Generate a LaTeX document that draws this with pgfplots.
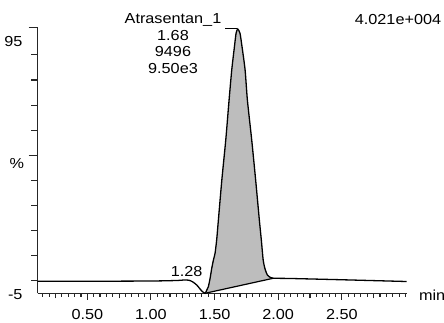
\documentclass[border=0pt]{standalone}
\usepackage{fontspec}
\setmainfont{Liberation Sans}[FakeStretch=1.12]
\usepackage{pgfplots}
\pgfplotsset{compat=1.18}
\begin{document}
\fontsize{14.5}{16}\selectfont
\begin{tikzpicture}[x=1pt,y=1pt]
\useasboundingbox (0,0) rectangle (444,322);
\begin{axis}[
  at={(37.7pt,28.7pt)}, anchor=south west,
  scale only axis, width=369pt, height=266pt,
  xmin=0.11, xmax=3.01, ymin=-5, ymax=101,
  axis x line*=bottom, axis y line*=left,
  axis line style={line width=1.3pt, black!85},
  tick style={line width=1.1pt, black!85},
  tick align=outside,
  xtick={0.5,1.0,1.5,2.0,2.5},
  xticklabels={0.50,1.00,1.50,2.00,2.50},
  major tick length=6.5pt,
  minor tick length=3.5pt,
  minor xtick={0.15,0.20,...,3.0},
  extra x ticks={0.25,0.75,1.25,1.75,2.25,2.75},
  extra x tick labels={},
  extra x tick style={major tick length=5pt},
  ytick={0,10,20,30,40,60,70,80,90}, yticklabels={},
  extra y ticks={50,101}, extra y tick labels={},
  extra y tick style={major tick length=9pt},
  xticklabel style={font=\fontsize{14.5}{16}\selectfont, anchor=center, yshift=-15pt},
  clip=false,
]
\pgfplotstableread{
x y
0.11 -0.2
0.50 -0.2
1.00 -0.1
1.20 0.1
1.26 0.3
1.30 0.2
1.33 -0.5
1.36 -1.7
1.38 -2.9
1.40 -4.1
1.425 -5.0
1.44 -3.6
1.451 -2.4
1.465 1.0
1.478 5.0
1.492 8.5
1.504 11
1.517 16.5
1.530 24.2
1.557 40.1
1.588 56.1
1.614 72.0
1.635 84.0
1.656 93.2
1.669 98.6
1.682 100.3
1.700 98.6
1.716 93.2
1.740 84.0
1.758 72.0
1.792 56.1
1.823 40.1
1.852 24.2
1.868 16
1.882 8.3
1.895 5.0
1.915 2.3
1.940 1.3
1.962 1.0
2.10 0.9
2.50 0.4
3.01 -0.3
}\trace
\pgfplotstableread{
x y
1.425 -5.0
1.44 -3.6
1.451 -2.4
1.465 1.0
1.478 5.0
1.492 8.5
1.504 11
1.517 16.5
1.530 24.2
1.557 40.1
1.588 56.1
1.614 72.0
1.635 84.0
1.656 93.2
1.669 98.6
1.682 100.3
1.700 98.6
1.716 93.2
1.740 84.0
1.758 72.0
1.792 56.1
1.823 40.1
1.852 24.2
1.868 16
1.882 8.3
1.895 5.0
1.915 2.3
1.940 1.3
1.962 1.0
}\peak
\addplot[fill=black!26, draw=none] table[x=x,y=y]{\peak} -- cycle;
\addplot[black, line width=1.3pt, smooth, tension=0.4] table[x=x,y=y]{\trace};
\addplot[black, line width=1.2pt] coordinates {(1.425,-5.0) (1.962,1.0)};
\end{axis}
\node[anchor=east] at (27.5,322-41.7) {95};
\node[anchor=east] at (27.5,322-295) {-5};
\node[anchor=east] at (29,322-163.3) {\%};
\node[anchor=west] at (414,322-295) {min};
\node at (173,322-20) {Atrasentan\_1};
\node at (173,322-35.7) {1.68};
\node at (173,322-51.7) {9496};
\node at (173,322-68.3) {9.50e3};
\draw[black, line width=1pt] (225,322-28.3) -- (237.3,322-28.3);
\node at (398,322-20) {4.021e+004};
\node at (186.7,322-271.7) {1.28};
\end{tikzpicture}
\end{document}
